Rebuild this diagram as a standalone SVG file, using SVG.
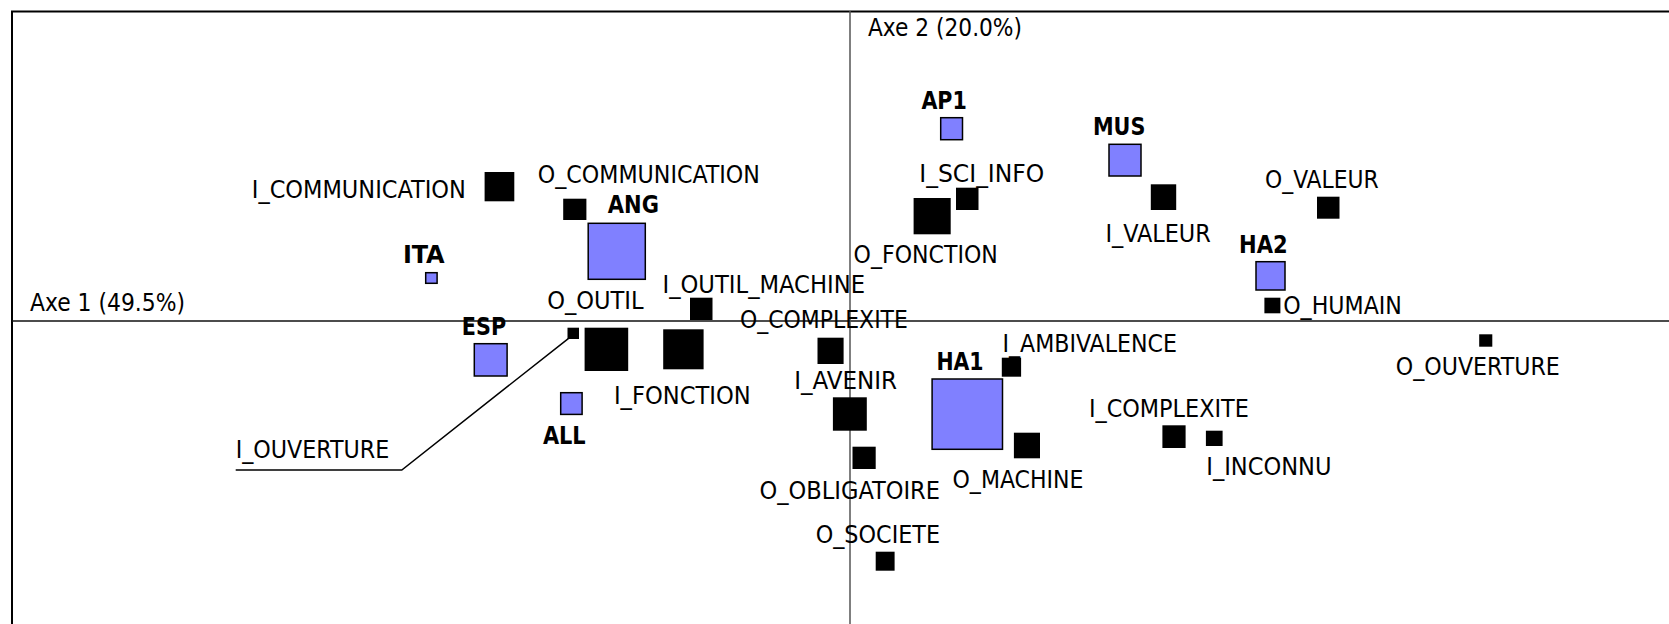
<svg xmlns="http://www.w3.org/2000/svg" width="1669" height="624" viewBox="0 0 1669 624">
<style>
text{font-family:"DejaVu Sans Condensed","DejaVu Sans","Liberation Sans",sans-serif;font-stretch:condensed;font-size:25px;fill:#000}
.b{font-weight:bold}
.v{fill:#000}
.s{fill:#8080ff;stroke:#000;stroke-width:1.5}
.frame{fill:none;stroke:#000;stroke-width:2}
</style>
<rect width="1669" height="624" fill="#fff"/>
<g id="frame">
<path class="frame" d="M12,630 V11.5 H1680"/>
<line x1="12" y1="321" x2="1669" y2="321" stroke="#111" stroke-width="1.5"/>
<line x1="850" y1="11" x2="850" y2="624" stroke="#555" stroke-width="1.5"/>
<text x="30" y="311" textLength="155" lengthAdjust="spacingAndGlyphs">Axe 1 (49.5%)</text>
<text x="868" y="36" textLength="154" lengthAdjust="spacingAndGlyphs">Axe 2 (20.0%)</text>
</g>
<g id="connectors">
<polyline points="235.7,470 401.8,470 568.6,338.3" fill="none" stroke="#000" stroke-width="1.5"/>
</g>
<g id="I_COMMUNICATION"><rect class="v" x="484.6" y="172" width="29.7" height="29.3"/><text x="251.8" y="198" textLength="214" lengthAdjust="spacingAndGlyphs">I_COMMUNICATION</text></g>
<g id="O_COMMUNICATION"><rect class="v" x="563.2" y="198.7" width="23.2" height="21.3"/><text x="537.8" y="183" textLength="222" lengthAdjust="spacingAndGlyphs">O_COMMUNICATION</text></g>
<g id="ITA"><rect class="s" x="425.7" y="272.7" width="11.4" height="10.6"/><text class="b" x="402.9" y="263" textLength="41.8" lengthAdjust="spacingAndGlyphs">ITA</text></g>
<g id="ESP"><rect class="s" x="474.3" y="343.7" width="32.8" height="32.3"/><text class="b" x="461.8" y="335" textLength="44.3" lengthAdjust="spacingAndGlyphs">ESP</text></g>
<g id="ANG"><rect class="s" x="588.2" y="223.3" width="57.1" height="56"/><text class="b" x="607.8" y="213" textLength="51.1" lengthAdjust="spacingAndGlyphs">ANG</text></g>
<g id="ALL"><rect class="s" x="560.7" y="392.7" width="21.4" height="21.7"/><text class="b" x="542.9" y="444" textLength="42.8" lengthAdjust="spacingAndGlyphs">ALL</text></g>
<g id="AP1"><rect class="s" x="940.7" y="117.7" width="21.8" height="22"/><text class="b" x="921.4" y="109" textLength="45.4" lengthAdjust="spacingAndGlyphs">AP1</text></g>
<g id="MUS"><rect class="s" x="1109" y="144.3" width="32" height="31.7"/><text class="b" x="1092.9" y="135" textLength="52.5" lengthAdjust="spacingAndGlyphs">MUS</text></g>
<g id="HA1"><rect class="s" x="932.1" y="379" width="70.4" height="70.3"/><text class="b" x="936.4" y="370" textLength="47.2" lengthAdjust="spacingAndGlyphs">HA1</text></g>
<g id="HA2"><rect class="s" x="1256" y="261.7" width="29" height="28.3"/><text class="b" x="1239" y="253" textLength="48.6" lengthAdjust="spacingAndGlyphs">HA2</text></g>
<g id="I_OUVERTURE"><rect class="v" x="567.5" y="327.7" width="11.5" height="11.3"/><text x="235.7" y="458" textLength="153.6" lengthAdjust="spacingAndGlyphs">I_OUVERTURE</text></g>
<g id="O_OUTIL"><rect class="v" x="584.6" y="327.7" width="43.6" height="43.3"/><text x="547.2" y="309" textLength="96.4" lengthAdjust="spacingAndGlyphs">O_OUTIL</text></g>
<g id="I_OUTIL_MACHINE"><rect class="v" x="690" y="297.7" width="22.5" height="22.3"/><text x="662.5" y="293" textLength="202.5" lengthAdjust="spacingAndGlyphs">I_OUTIL_MACHINE</text></g>
<g id="I_FONCTION"><rect class="v" x="663.2" y="329.3" width="40.4" height="40"/><text x="613.9" y="404" textLength="136.8" lengthAdjust="spacingAndGlyphs">I_FONCTION</text></g>
<g id="O_COMPLEXITE"><rect class="v" x="817.5" y="337.7" width="26.1" height="26.3"/><text x="740" y="328" textLength="167.9" lengthAdjust="spacingAndGlyphs">O_COMPLEXITE</text></g>
<g id="I_AVENIR"><rect class="v" x="832.9" y="397.3" width="33.9" height="33.4"/><text x="794.3" y="389" textLength="102.8" lengthAdjust="spacingAndGlyphs">I_AVENIR</text></g>
<g id="O_OBLIGATOIRE"><rect class="v" x="852.5" y="446.7" width="23.2" height="22.3"/><text x="759.6" y="499" textLength="180.4" lengthAdjust="spacingAndGlyphs">O_OBLIGATOIRE</text></g>
<g id="O_SOCIETE"><rect class="v" x="875.7" y="551.7" width="18.9" height="19"/><text x="815.7" y="543" textLength="124.3" lengthAdjust="spacingAndGlyphs">O_SOCIETE</text></g>
<g id="O_MACHINE"><rect class="v" x="1013.9" y="432.7" width="26.1" height="25.6"/><text x="952.5" y="488" textLength="131" lengthAdjust="spacingAndGlyphs">O_MACHINE</text></g>
<g id="I_AMBIVALENCE"><rect class="v" x="1001.8" y="357.7" width="19.3" height="19"/><text x="1002.5" y="352" textLength="174.4" lengthAdjust="spacingAndGlyphs">I_AMBIVALENCE</text></g>
<g id="I_COMPLEXITE"><rect class="v" x="1162.4" y="425.3" width="23.2" height="22.7"/><text x="1088.9" y="417" textLength="159.9" lengthAdjust="spacingAndGlyphs">I_COMPLEXITE</text></g>
<g id="I_INCONNU"><rect class="v" x="1205.9" y="430.7" width="16.7" height="15.3"/><text x="1206.3" y="475" textLength="125.2" lengthAdjust="spacingAndGlyphs">I_INCONNU</text></g>
<g id="I_SCI_INFO"><rect class="v" x="956" y="187.7" width="22.5" height="22.3"/><text x="919.3" y="182" textLength="125" lengthAdjust="spacingAndGlyphs">I_SCI_INFO</text></g>
<g id="O_FONCTION"><rect class="v" x="913.6" y="198" width="37.1" height="36.3"/><text x="853.6" y="263" textLength="144.2" lengthAdjust="spacingAndGlyphs">O_FONCTION</text></g>
<g id="I_VALEUR"><rect class="v" x="1150.8" y="184.3" width="25.4" height="25.7"/><text x="1105.4" y="242" textLength="105.3" lengthAdjust="spacingAndGlyphs">I_VALEUR</text></g>
<g id="O_VALEUR"><rect class="v" x="1317" y="196.7" width="22.5" height="22"/><text x="1265.1" y="188" textLength="113.6" lengthAdjust="spacingAndGlyphs">O_VALEUR</text></g>
<g id="O_HUMAIN"><rect class="v" x="1264.4" y="297.7" width="16" height="15.6"/><text x="1283.2" y="314" textLength="118.7" lengthAdjust="spacingAndGlyphs">O_HUMAIN</text></g>
<g id="O_OUVERTURE"><rect class="v" x="1479.2" y="334.3" width="13.1" height="12.4"/><text x="1395.8" y="375" textLength="164" lengthAdjust="spacingAndGlyphs">O_OUVERTURE</text></g>
</svg>
